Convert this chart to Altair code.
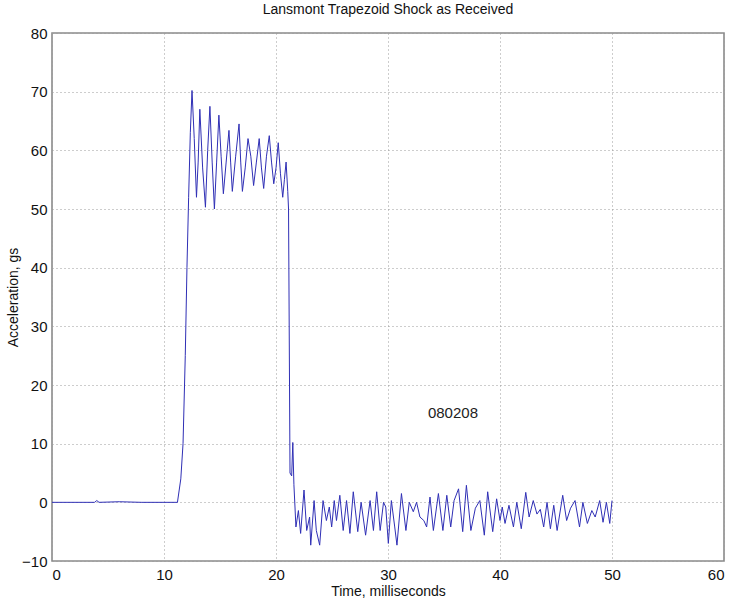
import altair as alt
import pandas as pd

# Time (ms) and acceleration (g)
time_ms = [
    0.0, 3.8, 4.0, 4.2, 6.0, 8.0, 11.2,
    11.5, 11.7, 11.9, 12.05, 12.2, 12.35, 12.5, 12.7, 12.9, 13.05, 13.2, 13.45, 13.7,
    13.9, 14.1, 14.3, 14.5, 14.7, 14.9, 15.1, 15.3, 15.55, 15.8, 15.95, 16.1, 16.4,
    16.7, 16.85, 17.0, 17.25, 17.5, 17.75, 18.0, 18.25, 18.5, 18.7, 18.9, 19.15, 19.4,
    19.6, 19.8, 20.0, 20.2, 20.4, 20.6, 20.75, 20.9, 21.05, 21.12, 21.25, 21.4, 21.5,
    21.6, 21.78,
    22.0, 22.2, 22.5, 22.74, 23.0, 23.1, 23.4, 23.6, 23.9, 24.2, 24.5, 24.76, 24.97,
    25.2, 25.4, 25.7, 26.0, 26.3, 26.6, 26.9, 27.3, 27.6, 28.0, 28.4, 28.7, 28.99,
    29.3, 29.6, 29.8, 30.03, 30.3, 30.6, 30.8, 31.2, 31.6, 31.9, 32.26, 32.55, 32.85,
    33.2, 33.45, 33.75, 34.05, 34.5, 34.9, 35.25, 35.6, 35.9, 36.3, 36.67, 37.0, 37.4,
    37.8, 38.2, 38.6, 38.9, 39.35, 39.7, 40.0, 40.2, 40.45, 40.8, 41.2, 41.5, 41.9,
    42.3, 42.6, 42.97, 43.3, 43.6, 43.9, 44.2, 44.5, 44.8, 45.1, 45.6, 45.95, 46.3,
    46.7, 47.1, 47.4, 47.8, 48.2, 48.5, 48.9, 49.2, 49.5, 49.8, 50.0,
]
accel_g = [
    0.0, 0.0, 0.3, 0.0, 0.1, 0.0, 0.0,
    4, 10, 25, 40, 52, 63, 70.2, 62, 52, 58, 67, 57, 50.3,
    60, 67.5, 58, 50, 58, 66, 59, 52.6, 58, 63.4, 58, 53, 59,
    64.5, 58, 53, 57, 62, 59, 54, 58, 62, 57, 53.5, 59, 62.5,
    58, 54.3, 57, 61.3, 56, 52, 55, 58, 53, 50, 5, 4.5, 10.2,
    3, -4.2,
    -1.4, -5.3, 2.1, -4.8, -2.5, -7.3, 0.3, -4.8, -7.3, 0.3, -3.1, -0.8, -4.2,
    0.3, -3.1, 1.2, -4.8, 0.3, -5.3, 1.8, -5.0, 0.0, -5.6, 0.3, -4.8, 1.8,
    -4.8, 0.0, -0.8, -7.0, 0.3, -4.2, -7.3, 1.5, -4.8, 0.0, -1.6, 0.0, -2.5,
    -3.1, -4.2, 0.9, -4.8, 1.5, -4.8, 1.2, -4.2, 0.3, 2.3, -5.0, 2.9, -4.8,
    -1.0, 0.3, -5.6, 1.8, -5.0, 0.6, -3.1, -0.8, -3.6, -0.5, -4.2, 0.0, -4.5,
    1.7, -2.5, 0.3, -2.0, -1.2, -4.2, 0.0, -4.5, -0.5, -4.8, 1.2, -3.1, -1.0,
    0.3, -4.2, 0.0, -3.6, -1.4, -2.5, 0.3, -3.4, 0.0, -3.6, 0.3,
]

x_ticks = [0, 10, 20, 30, 40, 50, 60]
y_ticks = [-10, 0, 10, 20, 30, 40, 50, 60, 70, 80]

note_text = ["080208"]
note_x = [35.8]
note_y = [15.2]

df = pd.DataFrame({"t": time_ms, "a": accel_g})
notes = pd.DataFrame({"t": note_x, "a": note_y, "label": note_text})

FONT = "Liberation Sans"

x_enc = alt.X(
    "t:Q",
    scale=alt.Scale(domain=[0, 60], nice=False),
    axis=alt.Axis(
        values=x_ticks, title="Time, milliseconds", grid=True, ticks=False,
        labelPadding=6, titlePadding=2, format="d",
    ),
)
y_enc = alt.Y(
    "a:Q",
    scale=alt.Scale(domain=[-10, 80], nice=False),
    axis=alt.Axis(
        values=y_ticks, title="Acceleration, gs", grid=True, ticks=False,
        labelPadding=5, titlePadding=1, format="d",
    ),
)

line = alt.Chart(df).mark_line(
    color="#2f2fb5", strokeWidth=1
).encode(x=x_enc, y=y_enc)

label = alt.Chart(notes).mark_text(
    font=FONT, fontSize=15, color="#222222"
).encode(x="t:Q", y="a:Q", text="label:N")

chart = (
    alt.layer(line, label)
    .properties(
        width=672,
        height=528,
        background="white",
        title=alt.TitleParams(
            "Lansmont Trapezoid Shock as Received",
            font=FONT, fontSize=14, fontWeight="normal", color="#111111", offset=9,
        ),
        autosize=alt.AutoSizeParams(type="none"),
        padding={"left": 52, "top": 33, "right": 7, "bottom": 41},
    )
    .configure_view(stroke="#8a8a8a", strokeWidth=1.6)
    .configure_axis(
        domain=False,
        gridColor="#9a9a9a",
        gridDash=[1, 3],
        gridWidth=1,
        labelFont=FONT,
        labelFontSize=15,
        labelColor="#111111",
        titleFont=FONT,
        titleFontSize=14,
        titleFontWeight="normal",
        titleColor="#111111",
    )
)

chart.save("out.html", embed_options={"renderer": "svg", "actions": False})
